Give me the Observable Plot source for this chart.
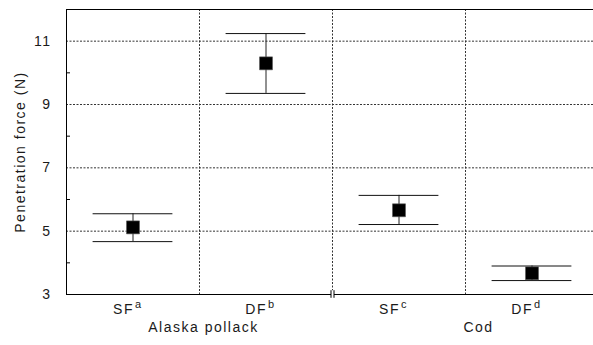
<!DOCTYPE html>
<html><head><meta charset="utf-8">
<script src="https://cdn.jsdelivr.net/npm/d3@7"></script>
<script src="https://cdn.jsdelivr.net/npm/@observablehq/plot@0.6"></script>
<style>body{margin:0;background:#fff}</style>
</head><body><div id="chart"></div>
<script>
const categories = ["SF", "DF", "SF", "DF"];
const superscripts = ["a", "b", "c", "d"];
const groups = ["Alaska pollack", "Cod"];
const means = [5.12, 10.30, 5.66, 3.67];
const upper = [5.55, 11.24, 6.13, 3.90];
const lower = [4.67, 9.35, 5.21, 3.44];
const majorTicks = [3, 5, 7, 9, 11];
const minorTicks = [4, 6, 8, 10];
const gridY = [5, 7, 9, 11];

const data = categories.map((c, i) => ({pos: i + 0.5, cat: c, sup: superscripts[i], mean: means[i], hi: upper[i], lo: lower[i]}));
const groupData = groups.map((g, i) => ({pos: 2 * i + 1, name: g}));
const dividers = [1, 2, 3];

const font = "'Liberation Sans', Arial, sans-serif";
const chart = Plot.plot({
  width: 593, height: 345,
  marginLeft: 66, marginTop: 9, marginBottom: 51, marginRight: 0,
  style: {fontFamily: font, fontSize: "14px", letterSpacing: "1.5px", background: "#fff", color: "#1a1a1a"},
  x: {type: "linear", domain: [0, 4], range: [66, 598], axis: null},
  y: {domain: [3, 12], range: [294, 9], axis: null},
  marks: [
    Plot.ruleY(gridY, {stroke: "#333", strokeDasharray: "2,1.5"}),
    Plot.ruleX(dividers, {stroke: "#333", strokeDasharray: "2,1.5"}),
    Plot.ruleY(minorTicks, {x1: 0, x2: 0.03, stroke: "#000"}),
    Plot.frame({stroke: "#000"}),
    // axis break
    Plot.ruleX([2], {y1: 2.88, y2: 3.12, stroke: "#fff", strokeWidth: 3, clip: false}),
    Plot.ruleX([2], {y1: 2.88, y2: 3.12, dx: -1.5, stroke: "#000", clip: false}),
    Plot.ruleX([2], {y1: 2.88, y2: 3.12, dx: 1.5, stroke: "#000", clip: false}),
    // error bars
    Plot.ruleX(data, {x: "pos", y1: "lo", y2: "hi", stroke: "#222"}),
    Plot.ruleY(data, {y: "hi", x1: d => d.pos - 0.3, x2: d => d.pos + 0.3, stroke: "#111"}),
    Plot.ruleY(data, {y: "lo", x1: d => d.pos - 0.3, x2: d => d.pos + 0.3, stroke: "#111"}),
    Plot.dot(data, {x: "pos", y: "mean", symbol: "square", r: 7.3, fill: "#000", stroke: "#555", strokeWidth: 0.6}),
    // y axis labels
    Plot.axisY(majorTicks, {ticks: majorTicks, tickSize: 0, tickPadding: 15, fontSize: 14, tickFormat: d => String(d)}),
    Plot.text(["Penetration force (N)"], {frameAnchor: "left", textAnchor: "middle", rotate: -90, dx: -46, fontSize: 14}),
    // x labels
    Plot.text(data, {x: "pos", text: "cat", frameAnchor: "bottom", dy: 19, textAnchor: "end", dx: 1, fontSize: 14}),
    Plot.text(data, {x: "pos", text: "sup", frameAnchor: "bottom", dy: 13, textAnchor: "start", dx: 2, fontSize: 11}),
    Plot.text(groupData.slice(0, 1), {x: "pos", text: "name", frameAnchor: "bottom", dy: 37.5, dx: 4, fontSize: 14}),
    Plot.text(groupData.slice(1), {x: "pos", text: "name", frameAnchor: "bottom", dy: 37.5, dx: 13, fontSize: 14})
  ]
});
document.getElementById("chart").appendChild(chart);
</script>
</body></html>
